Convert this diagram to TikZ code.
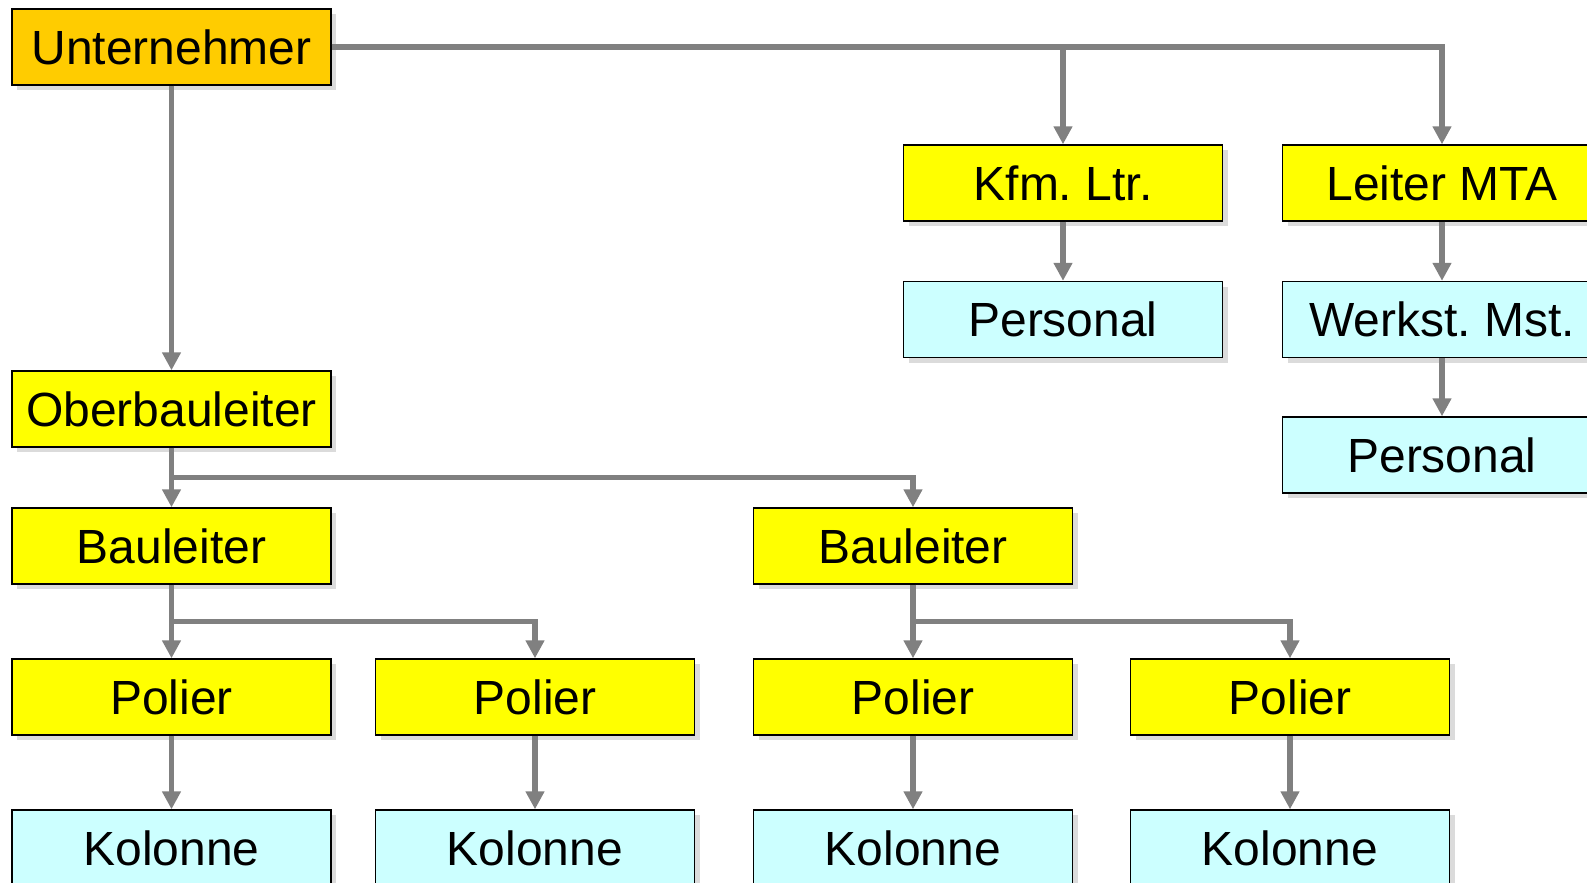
\documentclass[tikz,border=0pt]{standalone}
\usepackage{fontspec}
\setmainfont{Liberation Sans}
\usetikzlibrary{arrows.meta,shadows,calc}
\frenchspacing

\definecolor{chiefcol}{RGB}{255,204,0}
\definecolor{leadcol}{RGB}{255,255,0}
\definecolor{staffcol}{RGB}{204,255,255}
\definecolor{linkcol}{RGB}{128,128,128}

\begin{document}
\begin{tikzpicture}[
		box/.style={rectangle, draw=black, line width=0.8pt, minimum width=6.38cm, minimum height=1.52cm,
			inner sep=0pt, font=\fontsize{27.3}{32}\selectfont,
			drop shadow={shadow xshift=0.1cm, shadow yshift=-0.1cm, fill=black!14, opacity=1}},
		chief/.style={box, fill=chiefcol},
		lead/.style={box, fill=leadcol},
		staff/.style={box, fill=staffcol},
		link/.style={draw=linkcol, line width=0.11cm, -{Triangle[width=0.36cm, length=0.36cm]}}
	]
  \useasboundingbox (0cm, 0cm) rectangle (31.74cm, -17.66cm);
  \node (u) [chief] at (3.43cm, -0.94cm) {Unternehmer};
  \node (kfm) [lead] at (21.26cm, -3.66cm) {Kfm. Ltr.};
  \node (kfm_p) [staff] at (21.26cm, -6.39cm) {Personal};
  \node (mta) [lead] at (28.84cm, -3.66cm) {Leiter MTA};
  \node (mta_w) [staff] at (28.84cm, -6.39cm) {Werkst. Mst.};
  \node (mta_p) [staff] at (28.84cm, -9.10cm) {Personal};
  \node (obl) [lead] at (3.43cm, -8.18cm) {Oberbauleiter};
  \node (bl_1) [lead] at (3.43cm, -10.92cm) {Bauleiter};
  \node (bl_2) [lead] at (18.26cm, -10.92cm) {Bauleiter};
  \node (p_1) [lead] at (3.43cm, -13.94cm) {Polier};
  \node (p_2) [lead] at (10.70cm, -13.94cm) {Polier};
  \node (p_3) [lead] at (18.26cm, -13.94cm) {Polier};
  \node (p_4) [lead] at (25.80cm, -13.94cm) {Polier};
  \node (k_1) [staff] at (3.43cm, -16.96cm) {Kolonne};
  \node (k_2) [staff] at (10.70cm, -16.96cm) {Kolonne};
  \node (k_3) [staff] at (18.26cm, -16.96cm) {Kolonne};
  \node (k_4) [staff] at (25.80cm, -16.96cm) {Kolonne};
  \coordinate (j_obl) at ($(obl.south)!.5!(bl_1.north)$);
  \coordinate (j_bl_1) at ($(bl_1.south)!.5!(p_1.north)$);
  \coordinate (j_bl_2) at ($(bl_2.south)!.5!(p_3.north)$);
  \draw [link] (u.east) -| (mta.north);
  \draw [link] (kfm.north |- u.east) -- (kfm.north);
  \draw [link] (u.south) -- (obl.north);
  \draw [link] (kfm.south) -- (kfm_p.north);
  \draw [link] (mta.south) -- (mta_w.north);
  \draw [link] (mta_w.south) -- (mta_p.north);
  \draw [link] (obl.south) -- (bl_1.north);
  \draw [link] (j_obl) -| (bl_2.north);
  \draw [link] (bl_1.south) -- (p_1.north);
  \draw [link] (j_bl_1) -| (p_2.north);
  \draw [link] (bl_2.south) -- (p_3.north);
  \draw [link] (j_bl_2) -| (p_4.north);
  \draw [link] (p_1.south) -- (k_1.north);
  \draw [link] (p_2.south) -- (k_2.north);
  \draw [link] (p_3.south) -- (k_3.north);
  \draw [link] (p_4.south) -- (k_4.north);
\end{tikzpicture}
\end{document}
